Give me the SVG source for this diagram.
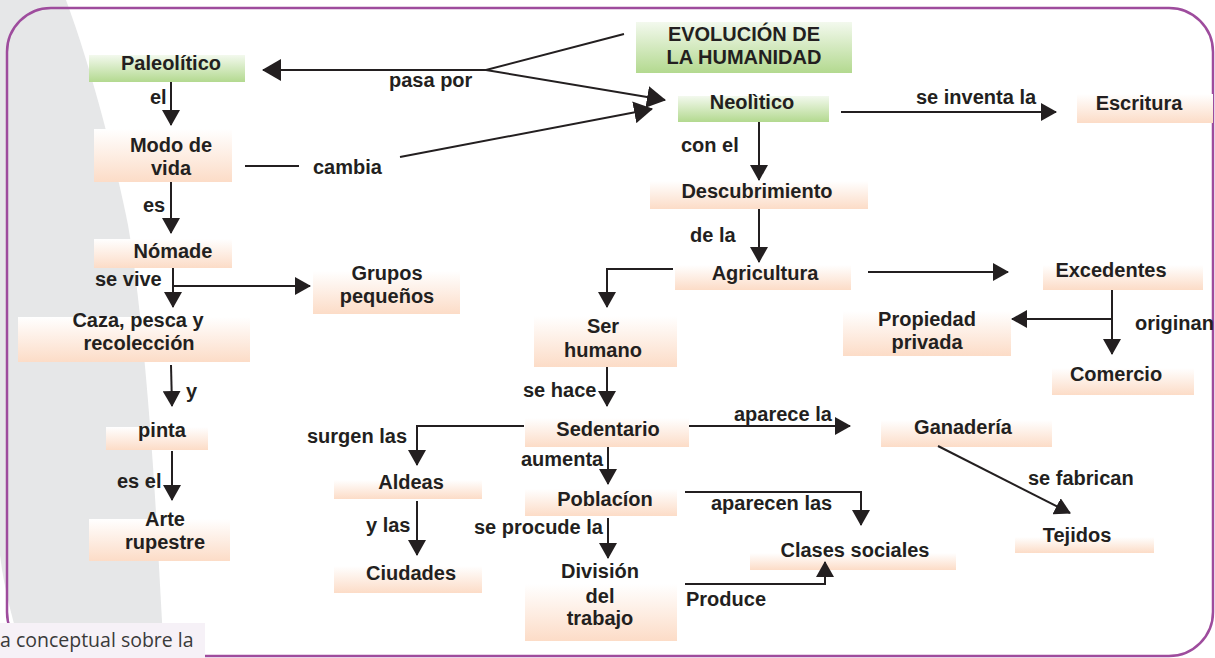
<svg xmlns="http://www.w3.org/2000/svg" width="1215" height="658" viewBox="0 0 1215 658">
<style>
.n{font-family:"Liberation Sans",Arial,sans-serif;font-weight:bold;font-size:20px;fill:#231f20;text-anchor:middle}
.l{font-family:"Liberation Sans",Arial,sans-serif;font-weight:bold;font-size:20px;fill:#231f20}
.c{fill:none;stroke:#231f20;stroke-width:2}
.pk{fill:url(#peach)}
.gr{fill:url(#green)}
</style>
<defs>
<linearGradient id="peach" x1="0" y1="0" x2="0" y2="1">
<stop offset="0" stop-color="#ffffff"/>
<stop offset="1" stop-color="#fcdcc7"/>
</linearGradient>
<linearGradient id="green" x1="0" y1="0" x2="0" y2="1">
<stop offset="0" stop-color="#f3f9ee"/>
<stop offset="1" stop-color="#b3d98f"/>
</linearGradient>
<marker id="ah" viewBox="0 0 16 18" refX="15" refY="9" markerWidth="16" markerHeight="18" markerUnits="userSpaceOnUse" orient="auto">
<path d="M0,0 L16,9 L0,18 Z" fill="#231f20"/>
</marker>
<marker id="ahL" viewBox="0 0 19 22" refX="18" refY="11" markerWidth="19" markerHeight="22" markerUnits="userSpaceOnUse" orient="auto">
<path d="M0,0 L19,11 L0,22 Z" fill="#231f20"/>
</marker>
</defs>
<rect x="0" y="0" width="1215" height="658" fill="#ffffff"/>
<path d="M0,0 L66,0 C 92,70 116,165 128,225 C 141,300 152,440 157,530 L 164,658 L 24,658 C 14,625 4,590 0,555 Z" fill="#e6e7e8"/>
<rect x="7" y="8" width="1206" height="648" rx="44" ry="44" fill="none" stroke="#9e4c9d" stroke-width="2.5"/>
<g id="caption">
<rect x="0" y="623" width="205" height="35" fill="#f6f1f7"/>
<text x="0" y="647" style="font-family:'Open Sans',sans-serif;font-size:19.5px;fill:#3a3a3a">a conceptual sobre la</text>
</g>
<g id="evolucion"><rect class="gr" x="636" y="22" width="216" height="51"/><text class="n" x="744" y="41">EVOLUCIÓN DE</text><text class="n" x="744" y="64">LA HUMANIDAD</text></g>
<g id="paleolitico"><rect class="gr" x="89" y="55" width="156" height="27"/><text class="n" x="171" y="70">Paleolítico</text></g>
<g id="neolitico"><rect class="gr" x="678" y="96" width="151" height="26"/><text class="n" x="752" y="109">Neolìtico</text></g>
<g id="escritura"><rect class="pk" x="1077" y="94" width="136" height="29"/><text class="n" x="1139" y="110">Escritura</text></g>
<g id="modo"><rect class="pk" x="94" y="129" width="138" height="53"/><text class="n" x="171" y="152">Modo de</text><text class="n" x="171" y="175">vida</text></g>
<g id="descubrimiento"><rect class="pk" x="650" y="181" width="218" height="28"/><text class="n" x="757" y="198">Descubrimiento</text></g>
<g id="nomade"><rect class="pk" x="94" y="239" width="138" height="29"/><text class="n" x="173" y="258">Nómade</text></g>
<g id="grupos"><rect class="pk" x="313" y="271" width="147" height="43"/><text class="n" x="387" y="280">Grupos</text><text class="n" x="387" y="303">pequeños</text></g>
<g id="caza"><rect class="pk" x="18" y="317" width="232" height="45"/><text class="n" x="138" y="327">Caza, pesca y</text><text class="n" x="139" y="350">recolección</text></g>
<g id="pinta"><rect class="pk" x="106" y="427" width="102" height="23"/><text class="n" x="162" y="437">pinta</text></g>
<g id="arte"><rect class="pk" x="89" y="519" width="141" height="42"/><text class="n" x="165" y="526">Arte</text><text class="n" x="165" y="549">rupestre</text></g>
<g id="agricultura"><rect class="pk" x="675" y="265" width="176" height="25"/><text class="n" x="765" y="280">Agricultura</text></g>
<g id="excedentes"><rect class="pk" x="1043" y="265" width="160" height="25"/><text class="n" x="1111" y="277">Excedentes</text></g>
<g id="propiedad"><rect class="pk" x="843" y="311" width="168" height="45"/><text class="n" x="927" y="326">Propiedad</text><text class="n" x="927" y="349">privada</text></g>
<g id="comercio"><rect class="pk" x="1052" y="368" width="142" height="27"/><text class="n" x="1116" y="381">Comercio</text></g>
<g id="serhumano"><rect class="pk" x="534" y="316" width="143" height="51"/><text class="n" x="603" y="333">Ser</text><text class="n" x="603" y="357">humano</text></g>
<g id="sedentario"><rect class="pk" x="525" y="418" width="164" height="29"/><text class="n" x="608" y="436">Sedentario</text></g>
<g id="ganaderia"><rect class="pk" x="881" y="420" width="171" height="27"/><text class="n" x="963" y="434">Ganadería</text></g>
<g id="aldeas"><rect class="pk" x="334" y="480" width="148" height="19"/><text class="n" x="411" y="489">Aldeas</text></g>
<g id="poblacion"><rect class="pk" x="525" y="489" width="152" height="27"/><text class="n" x="605" y="506">Poblacíon</text></g>
<g id="ciudades"><rect class="pk" x="334" y="566" width="148" height="27"/><text class="n" x="411" y="580">Ciudades</text></g>
<g id="division"><rect class="pk" x="525" y="584" width="152" height="57"/><text class="n" x="600" y="578">División</text><text class="n" x="600" y="603">del</text><text class="n" x="600" y="625">trabajo</text></g>
<g id="clases"><rect class="pk" x="750" y="553" width="206" height="17"/><text class="n" x="855" y="557">Clases sociales</text></g>
<g id="tejidos"><rect class="pk" x="1015" y="537" width="139" height="16"/><text class="n" x="1077" y="542">Tejidos</text></g>
<g id="connectors">
<path class="c" d="M624,34 L486,70 L263,70" marker-end="url(#ahL)"/>
<path class="c" d="M486,70 L665,100" marker-end="url(#ahL)"/>
<path class="c" d="M245,166 L299,166"/>
<path class="c" d="M400,157 L652,109" marker-end="url(#ahL)"/>
<path class="c" d="M171,82 L171,125" marker-end="url(#ah)"/>
<path class="c" d="M171,182 L171,233" marker-end="url(#ah)"/>
<path class="c" d="M173,268 L173,307" marker-end="url(#ah)"/>
<path class="c" d="M173,286 L310,286" marker-end="url(#ah)"/>
<path class="c" d="M171,365 L172,406" marker-end="url(#ah)"/>
<path class="c" d="M172,451 L172,500" marker-end="url(#ah)"/>
<path class="c" d="M841,112 L1056,112" marker-end="url(#ah)"/>
<path class="c" d="M759,122 L759,180" marker-end="url(#ah)"/>
<path class="c" d="M759,209 L759,262" marker-end="url(#ah)"/>
<path class="c" d="M673,269 L607,269 L607,307" marker-end="url(#ah)"/>
<path class="c" d="M868,272 L1008,272" marker-end="url(#ah)"/>
<path class="c" d="M1112,290 L1112,354" marker-end="url(#ah)"/>
<path class="c" d="M1112,319 L1012,319" marker-end="url(#ah)"/>
<path class="c" d="M607,367 L607,406" marker-end="url(#ah)"/>
<path class="c" d="M524,426 L417,426 L417,465" marker-end="url(#ah)"/>
<path class="c" d="M689,426 L850,426" marker-end="url(#ah)"/>
<path class="c" d="M938,446 L1070,513" marker-end="url(#ah)"/>
<path class="c" d="M608,447 L608,484" marker-end="url(#ah)"/>
<path class="c" d="M417,501 L417,555" marker-end="url(#ah)"/>
<path class="c" d="M608,518 L608,558" marker-end="url(#ah)"/>
<path class="c" d="M685,492 L861,492 L861,525" marker-end="url(#ah)"/>
<path class="c" d="M685,584 L825,584 L825,562" marker-end="url(#ah)"/>
<text class="l" x="389" y="87">pasa por</text>
<text class="l" x="313" y="174">cambia</text>
<text class="l" x="150" y="104">el</text>
<text class="l" x="143" y="212">es</text>
<text class="l" x="95" y="286">se vive</text>
<text class="l" x="186" y="398">y</text>
<text class="l" x="117" y="488">es el</text>
<text class="l" x="916" y="104">se inventa la</text>
<text class="l" x="681" y="152">con el</text>
<text class="l" x="690" y="242">de la</text>
<text class="l" x="1135" y="330">originan</text>
<text class="l" x="523" y="397">se hace</text>
<text class="l" x="307" y="443">surgen las</text>
<text class="l" x="734" y="421">aparece la</text>
<text class="l" x="1028" y="485">se fabrican</text>
<text class="l" x="521" y="466">aumenta</text>
<text class="l" x="366" y="532">y las</text>
<text class="l" x="474" y="534">se procude la</text>
<text class="l" x="711" y="510">aparecen las</text>
<text class="l" x="686" y="606">Produce</text>
</g>
</svg>
